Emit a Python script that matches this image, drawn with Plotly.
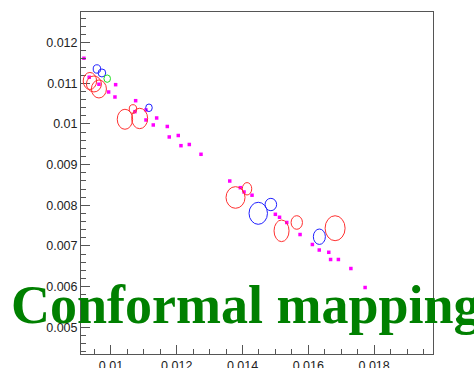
import plotly.graph_objects as go

# Hit points in the conformal plane (u, v)
hit_u = [0.009179, 0.009340, 0.009635, 0.010143, 0.009930, 0.010122, 0.010751,
         0.011065, 0.010730, 0.011390, 0.011065, 0.011287, 0.011713, 0.011773,
         0.012047, 0.012129, 0.012382, 0.012738, 0.013611, 0.013933, 0.014046,
         0.014289, 0.014998, 0.015125, 0.015344, 0.015749, 0.016123, 0.016333,
         0.016622, 0.016677, 0.016914, 0.017294, 0.017726]
hit_v = [0.011616, 0.011149, 0.010977, 0.010967, 0.010787, 0.010664, 0.010573,
         0.010345, 0.010303, 0.010148, 0.010099, 0.009976, 0.009939, 0.009681,
         0.009717, 0.009467, 0.009496, 0.009255, 0.008598, 0.008434, 0.008328,
         0.008249, 0.007779, 0.007706, 0.007578, 0.007282, 0.007037, 0.006901,
         0.006845, 0.006668, 0.006668, 0.006446, 0.005979]

# Error ellipses: centre (u, v) and half-axes (du, dv)
red_u = [0.009361, 0.009483, 0.009635, 0.010426, 0.010873, 0.010669,
         0.013787, 0.014137, 0.015186, 0.015649, 0.016814]
red_v = [0.011058, 0.010984, 0.010861, 0.010116, 0.010136, 0.010369,
         0.008193, 0.008407, 0.007373, 0.007578, 0.007437]
red_du = [0.000204, 0.000228, 0.000228, 0.000234, 0.000243, 0.000113,
          0.000289, 0.000143, 0.000228, 0.000173, 0.000304]
red_dv = [0.000209, 0.000196, 0.000221, 0.000246, 0.000251, 0.000106,
          0.000266, 0.000152, 0.000266, 0.000167, 0.000307]

blue_u = [0.009574, 0.009726, 0.011156, 0.014478, 0.014861, 0.016336]
blue_v = [0.011353, 0.011255, 0.010399, 0.007804, 0.008020, 0.007228]
blue_du = [0.000113, 0.000116, 0.000100, 0.000280, 0.000176, 0.000183]
blue_dv = [0.000103, 0.000098, 0.000093, 0.000271, 0.000152, 0.000189]

green_u = [0.009887]
green_v = [0.011115]
green_du = [0.000100]
green_dv = [0.000091]

x_ticks = [0.010, 0.012, 0.014, 0.016, 0.018]
x_labels = ["0.01", "0.012", "0.014", "0.016", "0.018"]
y_ticks = [0.005, 0.006, 0.007, 0.008, 0.009, 0.010, 0.011, 0.012]
y_labels = ["0.005", "0.006", "0.007", "0.008", "0.009", "0.01", "0.011", "0.012"]

title_text = "Conformal mapping"

fig = go.Figure()

fig.add_trace(go.Scatter(
    x=hit_u, y=hit_v, mode="markers",
    marker=dict(symbol="square", size=3.5, color="#ff00ff", line=dict(width=0)),
    showlegend=False, hoverinfo="skip",
))

shapes = []
for us, vs, dus, dvs, col in [
    (red_u, red_v, red_du, red_dv, "#ff3030"),
    (blue_u, blue_v, blue_du, blue_dv, "#2020ff"),
    (green_u, green_v, green_du, green_dv, "#20e020"),
]:
    for u, v, du, dv in zip(us, vs, dus, dvs):
        shapes.append(dict(
            type="circle", xref="x", yref="y",
            x0=u - du, x1=u + du, y0=v - dv, y1=v + dv,
            line=dict(color=col, width=1), fillcolor="rgba(0,0,0,0)",
            layer="above",
        ))

axis_common = dict(
    showgrid=False, zeroline=False, automargin=False,
    showline=True, linecolor="#555555", linewidth=1, mirror=True,
    ticks="inside", ticklen=9, tickcolor="#555555", tickwidth=1,
    tickfont=dict(family="Liberation Sans, Arial, sans-serif", size=12.5, color="#222222"),
)

fig.update_layout(
    width=474, height=368,
    margin=dict(l=81, r=41, t=12, b=14),
    paper_bgcolor="white", plot_bgcolor="white",
    shapes=shapes,
    xaxis=dict(
        range=[0.00909, 0.01979], tickvals=x_ticks, ticktext=x_labels,
        minor=dict(dtick=0.0005, tick0=0.01, ticks="inside", ticklen=5,
                   tickcolor="#555555"),
        **axis_common,
    ),
    yaxis=dict(
        range=[0.004344, 0.012754], tickvals=y_ticks, ticktext=y_labels,
        minor=dict(dtick=0.0002, tick0=0.005, ticks="inside", ticklen=5,
                   tickcolor="#555555"),
        **axis_common,
    ),
    annotations=[dict(
        text="<b>" + title_text + "</b>",
        xref="paper", yref="paper", x=-0.2037, y=0.051,
        xanchor="left", yanchor="bottom", showarrow=False,
        font=dict(family="Liberation Serif, Times New Roman, serif", size=54,
                  color="#008000"),
    )],
)

fig.write_html("out.html")
